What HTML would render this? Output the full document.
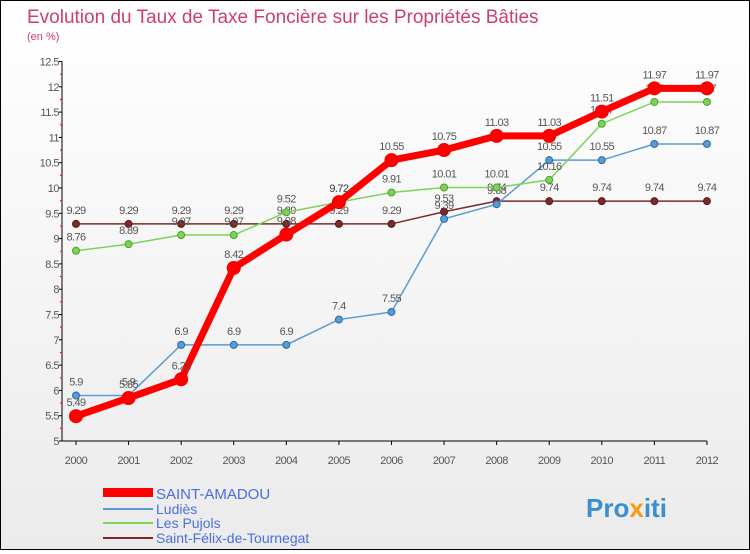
<!DOCTYPE html>
<html><head><meta charset="utf-8"><style>
body{margin:0;width:750px;height:550px;overflow:hidden;font-family:"Liberation Sans",sans-serif}
#c{position:absolute;left:0;top:0;width:748px;height:548px;border:1px solid #000;background:linear-gradient(#fff,#ebebeb)}
</style></head><body>
<div id="c">
<svg id="s" width="748" height="548" xmlns="http://www.w3.org/2000/svg">
<text x="26" y="22" font-size="19" fill="#cc4070">Evolution du Taux de Taxe Foncière sur les Propriétés Bâties</text>
<text x="26" y="39" font-size="11" fill="#cc4070">(en %)</text>
<g id="axes"></g><g id="series"></g>
<g>
<rect x="102" y="487" width="50" height="9" fill="#f00"/>
<text x="155" y="498" font-size="15" fill="#4a6fe0">SAINT-AMADOU</text>
<line x1="102" y1="508" x2="152" y2="508" stroke="#5b9bd5" stroke-width="2"/>
<text x="155" y="513" font-size="14" fill="#4a6fe0">Ludiès</text>
<line x1="102" y1="522" x2="152" y2="522" stroke="#7dd35a" stroke-width="2"/>
<text x="155" y="527" font-size="14" fill="#4a6fe0">Les Pujols</text>
<line x1="102" y1="537" x2="152" y2="537" stroke="#7b2a2a" stroke-width="2"/>
<text x="155" y="542" font-size="14" fill="#4a6fe0">Saint-Félix-de-Tournegat</text>
</g>
<text x="585" y="516" font-size="26" font-weight="bold" fill="#3a8fd0">Pro<tspan fill="#f39c12">x</tspan>iti</text>
</svg></div>
<script>
const years=["2000","2001","2002","2003","2004","2005","2006","2007","2008","2009","2010","2011","2012"];
const yTicks=[5,5.5,6,6.5,7,7.5,8,8.5,9,9.5,10,10.5,11,11.5,12,12.5];
const saintAmadou=[5.49,5.85,6.22,8.42,9.08,9.72,10.55,10.75,11.03,11.03,11.51,11.97,11.97];
const ludies=[5.9,5.9,6.9,6.9,6.9,7.4,7.55,9.39,9.68,10.55,10.55,10.87,10.87];
const lesPujols=[8.76,8.89,9.07,9.07,9.52,9.72,9.91,10.01,10.01,10.16,11.27,11.7,11.7];
const saintFelix=[9.29,9.29,9.29,9.29,9.29,9.29,9.29,9.53,9.74,9.74,9.74,9.74,9.74];
const NS="http://www.w3.org/2000/svg";
const X=i=>75+i*52.58, Y=v=>440-(v-5)*50.6;
function mk(t,a,p){const e=document.createElementNS(NS,t);for(const k in a)e.setAttribute(k,a[k]);p.appendChild(e);return e;}
const ax=document.getElementById('axes'), sg=document.getElementById('series');
let l=mk('line',{x1:61,y1:Y(12.5),x2:61,y2:440,stroke:'#000'},ax);


l=mk('line',{x1:61,y1:440,x2:X(12),y2:440,stroke:'#000'},ax);


yTicks.forEach(v=>{
 const t=mk('text',{x:58,y:Y(v)+4,'font-size':11,fill:'#555','text-anchor':'end','letter-spacing':'-0.5'},ax);
 t.textContent=String(v);
 
 
 mk('line',{x1:58,y1:Y(v),x2:61,y2:Y(v),stroke:'#000'},ax);
 if(v>5) mk('line',{x1:59,y1:Y(v)+12.65,x2:61,y2:Y(v)+12.65,stroke:'#f00'},ax);
});
years.forEach((y,i)=>{
 mk('line',{x1:X(i),y1:440,x2:X(i),y2:444,stroke:'#000'},ax);
 const t=mk('text',{x:X(i),y:463,'font-size':11,fill:'#555','text-anchor':'middle','letter-spacing':'-0.5'},ax);
 t.textContent=y;
 
 
});
function series(data,color,w,r,name,dotStroke){
 const g=mk('g',{},sg);
 
 
 mk('polyline',{points:data.map((v,i)=>X(i)+','+Y(v)).join(' '),fill:'none',stroke:color,'stroke-width':w},g);
 data.forEach((v,i)=>{
  const c=mk('circle',{cx:X(i),cy:Y(v),r:r,fill:color,stroke:dotStroke,'stroke-width':1},g);
  
  
  const t=mk('text',{x:X(i),y:Y(v)-10,'font-size':11,fill:'#555','text-anchor':'middle','letter-spacing':'-0.6'},g);
  t.textContent=String(v);
  
  
 });
}
series(saintFelix,'#7b2a2a',1.5,3.5,'series-saint-felix','#5a1a1a');
series(ludies,'#5b9bd5',1.5,3.5,'series-ludies','#2a6aa5');
series(lesPujols,'#7dd35a',1.5,3.5,'series-les-pujols','#4aa02a');
series(saintAmadou,'#f00',7,6.5,'series-saint-amadou','#e00');
</script>
</body></html>
